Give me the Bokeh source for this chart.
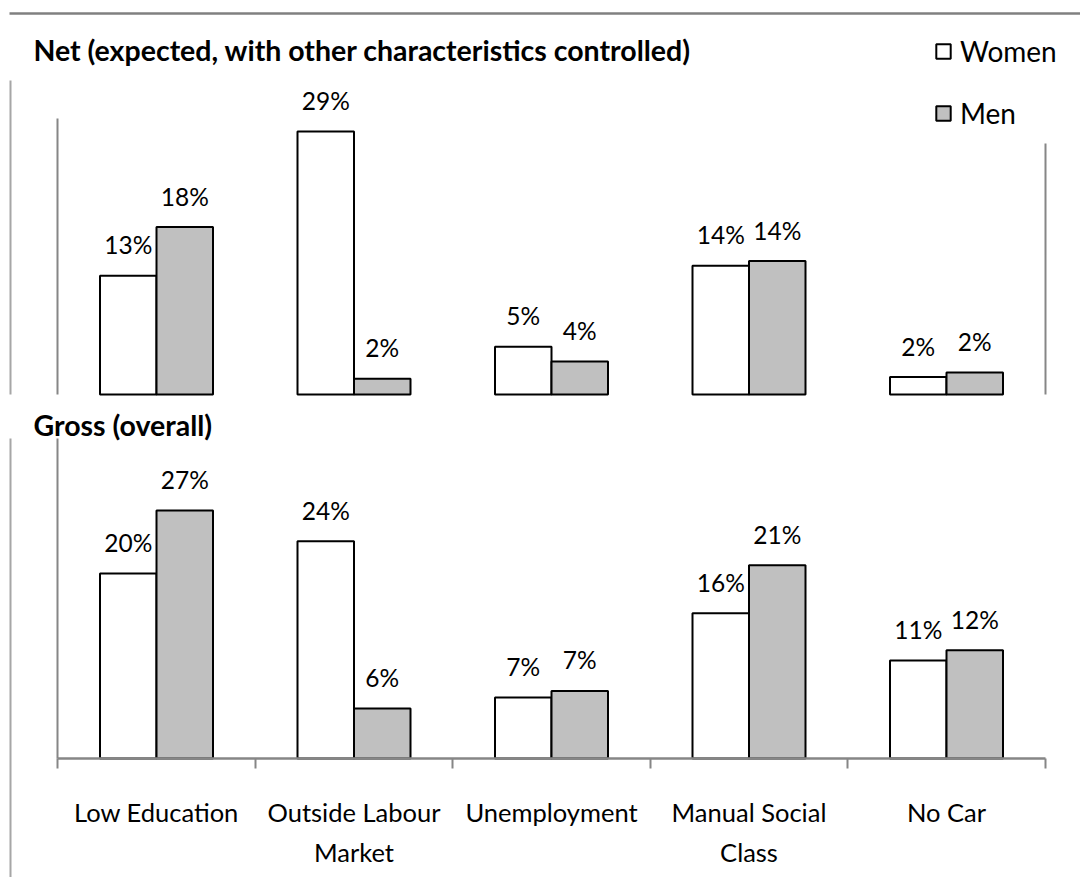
from bokeh.plotting import figure
from bokeh.models import (Range1d, LinearAxis, FixedTicker, Legend, LegendItem,
                          ColumnDataSource)
from bokeh.transform import dodge
from bokeh.core.properties import value
from bokeh.embed import file_html
from bokeh.resources import INLINE

# ---------------- data ----------------
categories = ["Low Education", "Outside Labour Market", "Unemployment",
              "Manual Social Class", "No Car"]
tick_labels = ["Low Education", "Outside Labour\nMarket", "Unemployment",
               "Manual Social\nClass", "No Car"]
series = ["Women", "Men"]

net_women = [12.9, 28.6, 5.2, 14.0, 1.9]
net_men = [18.2, 1.7, 3.6, 14.5, 2.4]
net_women_labels = ["13%", "29%", "5%", "14%", "2%"]
net_men_labels = ["18%", "2%", "4%", "14%", "2%"]

gross_women = [20.0, 23.5, 6.6, 15.7, 10.6]
gross_men = [26.8, 5.4, 7.3, 20.9, 11.7]
gross_women_labels = ["20%", "24%", "7%", "16%", "11%"]
gross_men_labels = ["27%", "6%", "7%", "21%", "12%"]

net_title = "Net (expected, with other characteristics controlled)"
gross_title = "Gross (overall)"

# ---------------- layout helpers (page pixel -> data) ----------------
W, H = 1080, 877
PAGE_X0, PAGE_Y0 = 0, 0
STEP = 197.5            # px per category
FIRST_C = 156.0         # page x of first category centre
BASE_T, SCALE_T = 394.0, 9.2    # net panel baseline / px per %
BASE_B, SCALE_B = 758.0, 9.25   # gross panel baseline / px per %

def xp(px):
    return (px - FIRST_C) / STEP

def yt(py):
    return (BASE_T - py) / SCALE_T

def yb(py):
    return (BASE_B - py) / SCALE_B

PAGE_BOTTOM = PAGE_Y0 + H
PAGE_RIGHT = PAGE_X0 + W

p = figure(width=W, height=H,
           x_range=Range1d(xp(PAGE_X0), xp(PAGE_RIGHT)),
           y_range=Range1d(yb(PAGE_BOTTOM), yb(PAGE_Y0)),
           output_backend="svg", toolbar_location=None,
           x_axis_type=None, y_axis_type=None,
           min_border=0, outline_line_color=None)
p.extra_y_ranges = {"top": Range1d(yt(PAGE_BOTTOM), yt(PAGE_Y0))}
p.background_fill_color = "white"
p.border_fill_color = "white"

FONT = value("Lato")
BW = 56.5 / STEP
GRAY = "#868686"
MEN_FILL = "#c0c0c0"

idx = list(range(len(categories)))
top_src = ColumnDataSource(dict(x=idx, women=net_women, men=net_men,
                                wl=net_women_labels, ml=net_men_labels))
bot_src = ColumnDataSource(dict(x=idx, women=gross_women, men=gross_men,
                                wl=gross_women_labels, ml=gross_men_labels))

renderers = {}
for name, src, rng in [("top", top_src, "top"), ("bot", bot_src, "default")]:
    rw = p.vbar(x=dodge("x", -BW / 2, range=p.x_range), top="women", bottom=0,
                width=BW, source=src, y_range_name=rng,
                fill_color="white", line_color="black", line_width=2)
    rm = p.vbar(x=dodge("x", BW / 2, range=p.x_range), top="men", bottom=0,
                width=BW, source=src, y_range_name=rng,
                fill_color=MEN_FILL, line_color="black", line_width=2)
    renderers[name] = (rw, rm)
    for col, lab, off in [("women", "wl", -BW / 2), ("men", "ml", BW / 2)]:
        p.text(x=dodge("x", off, range=p.x_range), y=col, text=lab, source=src,
               y_range_name=rng, text_align="center", text_baseline="alphabetic",
               y_offset=-31, text_font=FONT, text_font_size="24.5px",
               text_color="black")

# panel titles
p.text(x=[xp(33)], y=[yt(49)], text=[net_title], y_range_name="top",
       text_align="left", text_baseline="middle", text_font=FONT,
       text_font_style="bold", text_font_size="28.5px", text_color="black")
p.text(x=[xp(33)], y=[yb(424)], text=[gross_title],
       text_align="left", text_baseline="middle", text_font=FONT,
       text_font_style="bold", text_font_size="28.5px", text_color="black")

# decorative frame lines
p.segment(x0=[xp(9)], y0=[yb(13)], x1=[xp(PAGE_RIGHT)], y1=[yb(13)],
          line_color="#808080", line_width=2.5)
p.segment(x0=[xp(10)], y0=[yt(80)], x1=[xp(10)], y1=[0], y_range_name="top",
          line_color="#a6a6a6", line_width=2)
p.segment(x0=[xp(10)], y0=[yb(438)], x1=[xp(10)], y1=[yb(PAGE_BOTTOM)],
          line_color="#a6a6a6", line_width=2)

# value axes (lines only)
def value_axis(loc, top_val, rng):
    kw = dict(fixed_location=loc, bounds=(0, top_val), ticker=FixedTicker(ticks=[]),
              axis_line_color=GRAY, axis_line_width=2,
              major_label_text_font_size="0px", major_tick_line_color=None,
              minor_tick_line_color=None)
    if rng != "default":
        kw["y_range_name"] = rng
    return LinearAxis(**kw)

p.add_layout(value_axis(-0.5, 30, "top"), "left")
p.add_layout(value_axis(4.5, yt(143), "top"), "right")
p.add_layout(value_axis(-0.5, yb(438), "default"), "left")

# category axis of the gross panel
xa = LinearAxis(fixed_location=0,
                ticker=FixedTicker(ticks=idx, minor_ticks=[i - 0.5 for i in idx] + [idx[-1] + 0.5]),
                bounds=(-0.5, len(idx) - 0.5),
                major_label_overrides={i: t for i, t in zip(idx, tick_labels)},
                axis_line_color=GRAY, axis_line_width=2.5,
                major_tick_in=0, major_tick_out=0, major_tick_line_color=None,
                minor_tick_in=0, minor_tick_out=10, minor_tick_line_color=GRAY,
                minor_tick_line_width=2,
                major_label_standoff=28, major_label_text_font="Lato",
                major_label_text_font_size="25.5px", major_label_text_color="black",
                major_label_text_line_height=1.36)
p.add_layout(xa, "below")

rw, rm = renderers["top"]
legend = Legend(items=[LegendItem(label=series[0], renderers=[rw]),
                       LegendItem(label=series[1], renderers=[rm])],
                location=(934, PAGE_BOTTOM - 130), orientation="vertical",
                glyph_width=18, glyph_height=18, label_standoff=8,
                label_text_font="Lato", label_text_font_size="28px",
                label_text_color="black",
                label_height=34, spacing=28, padding=0, margin=0,
                border_line_color=None, background_fill_alpha=0)
p.add_layout(legend)

open("out.html", "w").write(file_html(p, INLINE))
